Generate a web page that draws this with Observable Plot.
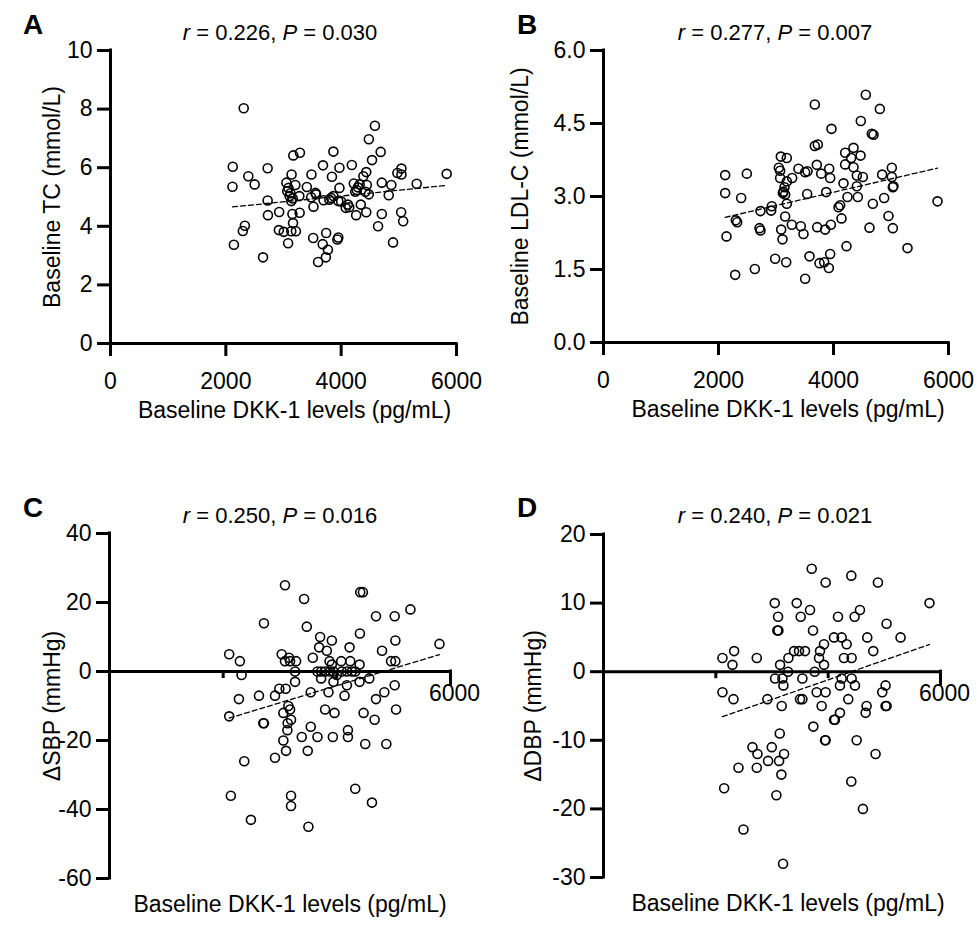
<!DOCTYPE html>
<html><head><meta charset="utf-8">
<script src="https://cdn.jsdelivr.net/npm/d3@7"></script>
<script src="https://cdn.jsdelivr.net/npm/@observablehq/plot@0.6"></script>
<style>
body{margin:0;background:#fff;}
#wrap{position:relative;width:977px;height:925px;font-family:"Liberation Sans",Arial,sans-serif;color:#000;overflow:hidden;}
.panel{position:absolute;}
.lab{position:absolute;font-weight:bold;font-size:28px;line-height:28px;}
.ann{position:absolute;font-size:22px;line-height:22px;white-space:nowrap;transform:translateX(-50%);}
</style></head><body><div id="wrap"></div>
<script>
// ---------- data ----------
const xTicks = [0, 2000, 4000, 6000];
const xTitle = "Baseline DKK-1 levels (pg/mL)";

// Panel A: baseline DKK-1 vs baseline TC
const dkkA = [2310,2120,2115,2390,2500,2725,2725,2730,2330,2295,2140,2645,2925,2920,3005,3080,3135,3215,3170,3285,3140,3050,3085,3205,3105,3160,3135,3275,3155,3280,3165,3405,3485,3555,3480,3520,3685,3865,3840,3970,3970,3865,3795,3695,3950,3515,3740,3680,3770,3735,3600,3950,3935,4115,4140,4185,4220,4245,4320,4385,4435,4340,4260,4435,4480,4585,4535,4685,4445,4480,4705,4825,4870,4705,4640,4900,5040,5075,5045,4975,5045,5310,5830,3065,3120,3565,3825,4080,4290,4270,4420,4000];
const tcA = [8.03,6.03,5.35,5.71,5.43,5.98,4.88,4.38,4.02,3.84,3.37,2.94,4.49,3.87,3.81,3.42,3.83,3.83,6.42,6.51,5.77,5.49,5.31,5.41,5.03,4.95,4.86,5.03,4.42,4.46,4.11,5.34,5.77,5.14,4.99,4.67,6.08,6.55,5.69,6.0,5.31,5.03,4.91,4.89,4.86,3.6,3.77,3.39,3.2,2.94,2.78,3.62,3.55,4.74,4.65,6.09,5.46,5.18,5.43,5.71,5.85,4.74,4.38,4.48,6.97,7.43,6.26,6.54,5.41,5.09,5.49,5.06,5.41,4.42,4.0,3.45,4.48,4.17,5.97,5.82,5.77,5.45,5.79,5.2,5.13,5.09,4.97,4.63,5.33,5.24,5.18,4.85];
const yTicksA = [0, 2, 4, 6, 8, 10];

// Panel B: baseline DKK-1 vs baseline LDL-C
const dkkB = [4562,3675,4806,4475,3965,4667,4696,3675,3727,4203,4348,4470,4307,3084,3188,3049,3072,2116,2493,3391,3507,3548,3710,3786,3925,3942,4203,4348,4406,4510,4174,4406,4846,5014,5014,5043,5032,3072,3188,3281,3148,3119,3159,3188,3542,3873,2116,2394,4243,4423,4116,4087,4139,4684,4881,5809,2927,2916,2730,2301,2325,2713,2730,3159,3275,3432,3478,3090,3113,3716,3855,3954,4626,4956,5032,2139,4226,5287,2985,3177,3583,3757,3838,3942,3919,2290,2632,3507,3130];
const ldlB = [5.09,4.89,4.80,4.55,4.39,4.29,4.27,4.04,4.07,3.90,4.0,3.84,3.79,3.82,3.79,3.59,3.53,3.44,3.47,3.57,3.50,3.52,3.65,3.47,3.57,3.38,3.66,3.60,3.43,3.40,3.27,3.21,3.45,3.59,3.40,3.21,3.19,3.38,3.31,3.38,3.19,3.07,3.04,2.85,3.05,3.09,3.07,2.97,2.99,2.99,2.82,2.78,2.55,2.85,2.97,2.90,2.80,2.71,2.70,2.51,2.47,2.35,2.30,2.59,2.42,2.39,2.23,2.32,2.12,2.37,2.32,2.42,2.36,2.60,2.35,2.18,1.98,1.94,1.72,1.65,1.77,1.63,1.65,1.82,1.53,1.39,1.51,1.31,3.10];
const yTicksB = [0, 1.5, 3, 4.5, 6];

// Panel C: baseline DKK-1 vs change in SBP
const dkkC = [3088,3424,4412,4459,5295,4689,5018,2718,3471,4406,3706,3912,5030,5806,4224,3688,3824,4795,2106,2294,3030,3159,3088,3177,3283,3577,3871,3912,4077,4236,4400,4954,5030,2324,3265,3659,3724,3794,3883,3941,4000,4089,4177,4265,4324,4571,3265,3724,3941,4177,4400,2988,3100,3541,3853,4136,5018,4836,4689,2277,2630,2912,3147,3177,3059,3194,3135,3130,2106,2706,2718,3794,3959,4471,4665,5042,3541,3383,3659,3930,4195,4195,3059,3106,3488,4500,4871,2371,2912,2135,3194,3194,4324,4618,2488,3500];
const sbpC = [25,21,23,23,18,16,16,14,13,11,10,9,9,8,7,7,6,6,5,3,5,4,3,3,3,4,3,2,3,3,2,3,3,-1,0,0,0,0,0,0,-1,0,0,0,0,-2,-3,-2,-3,-4,-3,-5,-5,-6,-6,-7,-4,-6,-8,-8,-7,-7,-10,-11,-12,-14,-15,-17,-13,-15,-15,-11,-12,-12,-14,-11,-16,-19,-19,-19,-17,-19,-20,-23,-23,-21,-21,-26,-25,-36,-36,-39,-34,-38,-43,-45];
const yTicksC = [-60, -40, -20, 0, 20, 40];

// Panel D: baseline DKK-1 vs change in DBP
const dkkD = [3707,3955,4412,4886,5804,3049,3440,3677,3511,3108,3096,3114,3730,4175,4471,4566,5040,4696,5289,4104,4240,4329,3926,3855,3837,3926,4803,3393,3481,3588,3292,3144,3286,4281,4418,2118,2326,2296,2729,3760,3055,3185,3203,3541,4240,4418,4477,4210,2118,2314,2918,3499,3541,3795,3955,3173,3884,4358,4963,5022,4684,4667,5022,5040,4210,4121,4104,3736,3944,3955,4507,4844,3138,2652,2741,2996,2930,3126,3215,2403,2729,3167,2148,3078,4412,4619,2492,3197];
const dbpD = [15,13,14,13,10,10,10,9,8,8,6,6,6,8,8,9,7,5,5,5,5,4,4,3,2,1,3,3,3,3,2,1,0,2,2,2,3,1,2,0,-1,-1,-2,-1,-1,-1,-2,-2,-3,-4,-4,-4,-4,-3,-3,-5,-5,-4,-3,-2,-5,-6,-5,-5,-6,-7,-7,-8,-10,-10,-10,-12,-9,-11,-12,-11,-13,-13,-12,-14,-14,-15,-17,-18,-16,-20,-23,-28];
const yTicksD = [-30, -20, -10, 0, 10, 20];

// ---------- drawing ----------
const FONT = "'Liberation Sans', Arial, sans-serif";
const wrap = document.getElementById("wrap");

function makePanel(cfg) {
  const data = cfg.xs.map((x, i) => ({x, y: cfg.ys[i]}));
  const marks = [
    Plot.axisY({ticks: cfg.yTicks, tickFormat: cfg.yFmt, tickSize: 13, tickPadding: 5, strokeWidth: 3, label: null}),
    Plot.ruleX([0], {strokeWidth: 3, strokeLinecap: "square"})
  ];
  if (cfg.zeroAxis) {
    marks.push(
      Plot.ruleY([0], {strokeWidth: 3}),
      Plot.ruleX(xTicks.slice(1, 3), {x: d => d, y1: 0, y2: 0, insetBottom: -7, strokeWidth: 3}),
      Plot.ruleX(xTicks.slice(3), {x: d => d, y1: 0, y2: 0, insetTop: -1.5, insetBottom: -14, strokeWidth: 3}),
      Plot.text(xTicks.slice(3), {x: d => d, y: 0, text: d => String(d), dy: 22, dx: 4, fontSize: 23}),
      Plot.text([xTitle], {frameAnchor: "bottom", dy: 33, dx: cfg.xTitleDx, fontSize: 23})
    );
  } else {
    marks.push(
      Plot.axisX({ticks: xTicks, tickFormat: d => String(d), tickSize: 13, tickPadding: 16, strokeWidth: 3, label: null}),
      Plot.ruleY([cfg.yDomain[0]], {strokeWidth: 3, strokeLinecap: "square"}),
      Plot.text([xTitle], {frameAnchor: "bottom", dy: 74, dx: cfg.xTitleDx, fontSize: 23})
    );
  }
  marks.push(
    Plot.dot(data, {x: "x", y: "y", r: 4.5, stroke: "black", strokeWidth: 1.6, fill: "none"}),
    Plot.linearRegressionY(data, {x: "x", y: "y", ci: 0, stroke: "black", strokeWidth: 1.3, strokeDasharray: "5,3"}),
    Plot.text([cfg.yTitle], {frameAnchor: "left", textAnchor: "middle", rotate: -90, dx: cfg.yTitleDx, fontSize: 23})
  );
  const chart = Plot.plot({
    width: cfg.width, height: cfg.height,
    marginLeft: cfg.m[0], marginTop: cfg.m[1], marginRight: cfg.m[2], marginBottom: cfg.m[3],
    x: {domain: [0, 6000], axis: null},
    y: {domain: cfg.yDomain, axis: null},
    style: {fontFamily: FONT, fontSize: "23px", color: "black", background: "white", overflow: "visible"},
    marks
  });
  const box = document.createElement("div");
  box.className = "panel";
  box.style.left = cfg.left + "px";
  box.style.top = cfg.top + "px";
  box.appendChild(chart);
  wrap.appendChild(box);

  const lab = document.createElement("div");
  lab.className = "lab";
  lab.textContent = cfg.letter;
  lab.style.left = cfg.letterPos[0] + "px";
  lab.style.top = cfg.letterPos[1] + "px";
  wrap.appendChild(lab);

  const ann = document.createElement("div");
  ann.className = "ann";
  ann.innerHTML = `<i>r</i> = ${cfg.stats[0]}, <i>P</i> = ${cfg.stats[1]}`;
  ann.style.left = cfg.annPos[0] + "px";
  ann.style.top = cfg.annPos[1] + "px";
  wrap.appendChild(ann);
}

const fmtInt = d => String(d);
const fmt1 = d3.format(".1f");

makePanel({letter: "A", stats: ["0.226", "0.030"], xs: dkkA, ys: tcA, yDomain: [0, 10], yTicks: yTicksA, yFmt: fmtInt,
  yTitle: "Baseline TC (mmol/L)", left: 0, top: 0, width: 488, height: 460, m: [110, 50, 32, 117],
  yTitleDx: -58, xTitleDx: 11, letterPos: [23, 11], annPos: [280, 22]});
makePanel({letter: "B", stats: ["0.277", "0.007"], xs: dkkB, ys: ldlB, yDomain: [0, 6], yTicks: yTicksB, yFmt: fmt1,
  yTitle: "Baseline LDL-C (mmol/L)", left: 488, top: 0, width: 489, height: 460, m: [115, 50, 29, 118],
  yTitleDx: -83, xTitleDx: 12, letterPos: [517, 11], annPos: [775, 22]});
makePanel({letter: "C", stats: ["0.250", "0.016"], xs: dkkC, ys: sbpC, yDomain: [-60, 40], yTicks: yTicksC, yFmt: fmtInt,
  yTitle: "ΔSBP (mmHg)", left: 0, top: 460, width: 488, height: 465, m: [109, 73, 38, 47], zeroAxis: true,
  yTitleDx: -57, xTitleDx: 10, letterPos: [23, 494], annPos: [280, 505]});
makePanel({letter: "D", stats: ["0.240", "0.021"], xs: dkkD, ys: dbpD, yDomain: [-30, 20], yTicks: yTicksD, yFmt: fmtInt,
  yTitle: "ΔDBP (mmHg)", left: 488, top: 460, width: 489, height: 465, m: [115, 74, 37, 48], zeroAxis: true,
  yTitleDx: -70, xTitleDx: 16, letterPos: [517, 494], annPos: [775, 505]});
</script>
</body></html>
